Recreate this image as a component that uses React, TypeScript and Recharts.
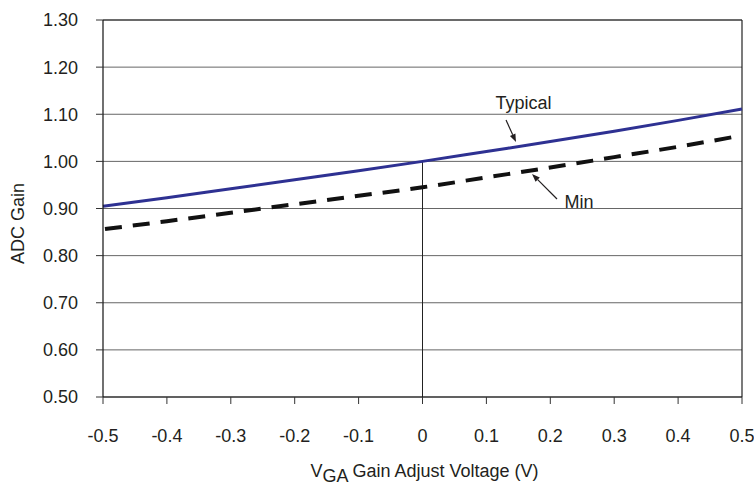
import React from 'react';
import { LineChart, Line, XAxis, YAxis, CartesianGrid, ReferenceLine, ReferenceDot, Label } from 'recharts';

const xValues = [-0.5, -0.4, -0.3, -0.2, -0.1, 0, 0.1, 0.2, 0.3, 0.4, 0.5];
const typicalGain = [0.905, 0.923, 0.942, 0.961, 0.98, 1.0, 1.021, 1.042, 1.064, 1.087, 1.111];
const minGain = [0.856, 0.873, 0.891, 0.909, 0.927, 0.945, 0.966, 0.987, 1.009, 1.031, 1.055];
const xTicks = [-0.5, -0.4, -0.3, -0.2, -0.1, 0, 0.1, 0.2, 0.3, 0.4, 0.5];
const yTicks = [0.5, 0.6, 0.7, 0.8, 0.9, 1.0, 1.1, 1.2, 1.3];

const data = xValues.map((x, i) => ({ x, typical: typicalGain[i], min: minGain[i] }));

const FONT = '"Liberation Sans", Arial, sans-serif';
const TEXT = '#231f20';

const Arrow = (p: any) => {
  const { x1, y1, x2, y2 } = p;
  if ([x1, y1, x2, y2].some((v) => typeof v !== 'number' || isNaN(v))) return null;
  const ang = Math.atan2(y2 - y1, x2 - x1);
  const L = 8;
  const W = 3;
  const bx = x2 - L * Math.cos(ang);
  const by = y2 - L * Math.sin(ang);
  const px = -Math.sin(ang) * W;
  const py = Math.cos(ang) * W;
  return (
    <g>
      <line x1={x1} y1={y1} x2={bx} y2={by} stroke={TEXT} strokeWidth={1.2} />
      <polygon points={`${x2},${y2} ${bx + px},${by + py} ${bx - px},${by - py}`} fill={TEXT} />
    </g>
  );
};

const XTitle = (props: any) => {
  const vb = props.viewBox || {};
  const cx = vb.x + vb.width / 2 + 2;
  const y = vb.y + 80;
  return (
    <text x={cx} y={y} textAnchor="middle" fontSize={18} fontFamily={FONT} fill={TEXT}>
      <tspan>V</tspan>
      <tspan dy={5}>GA</tspan>
      <tspan dy={-5}> Gain Adjust Voltage (V)</tspan>
    </text>
  );
};

const YTitle = (props: any) => {
  const vb = props.viewBox || {};
  const x = vb.x + 18;
  const y = vb.y + vb.height / 2 + 15;
  return (
    <text
      x={x}
      y={y}
      textAnchor="middle"
      dominantBaseline="central"
      transform={`rotate(-90, ${x}, ${y})`}
      fontSize={18}
      fontFamily={FONT}
      fill={TEXT}
    >
      ADC Gain
    </text>
  );
};

export default function App() {
  return (
    <div style={{ position: 'absolute', left: 0, top: 0, background: '#fff' }}>
      <LineChart width={754} height={483} data={data} margin={{ top: 20, right: 12, left: 0, bottom: 0 }}>
        <CartesianGrid vertical={false} stroke="#666" strokeWidth={1} />
        <XAxis
          dataKey="x"
          type="number"
          domain={[-0.5, 0.5]}
          ticks={xTicks}
          interval={0}
          height={86}
          tickFormatter={(v: number) => String(v)}
          tick={{ fontSize: 18, fill: TEXT, fontFamily: FONT }}
          axisLine={{ stroke: '#111', strokeWidth: 1.2 }}
          tickLine={{ stroke: '#333' }}
          tickSize={7}
          tickMargin={25}
        >
          <Label content={XTitle} />
        </XAxis>
        <YAxis
          type="number"
          domain={[0.5, 1.3]}
          ticks={yTicks}
          interval={0}
          width={103}
          tickFormatter={(v: number) => v.toFixed(2)}
          tick={{ fontSize: 18, fill: TEXT, fontFamily: FONT }}
          axisLine={{ stroke: '#111', strokeWidth: 1.2 }}
          tickLine={{ stroke: '#333' }}
          tickSize={7}
          tickMargin={18}
        >
          <Label content={YTitle} />
        </YAxis>
        <ReferenceLine y={1.3} stroke="#222" strokeWidth={1.2} />
        <ReferenceLine x={0.5} stroke="#222" strokeWidth={1.2} />
        <ReferenceLine
          segment={[
            { x: 0, y: 0.5 },
            { x: 0, y: 1.0 },
          ]}
          stroke="#222"
          strokeWidth={1}
        />
        <Line
          type="monotone"
          dataKey="min"
          stroke="#111"
          strokeWidth={4}
          strokeDasharray="17 11"
          strokeDashoffset={26}
          dot={false}
          isAnimationActive={false}
        />
        <Line
          type="monotone"
          dataKey="typical"
          stroke="#2E3192"
          strokeWidth={3}
          dot={false}
          isAnimationActive={false}
        />
        <ReferenceLine
          segment={[
            { x: 0.1307, y: 1.0878 },
            { x: 0.1463, y: 1.0411 },
          ]}
          shape={Arrow}
        />
        <ReferenceLine
          segment={[
            { x: 0.2105, y: 0.9202 },
            { x: 0.1714, y: 0.9732 },
          ]}
          shape={Arrow}
        />
        <ReferenceDot
          x={0.158}
          y={1.1247}
          r={0}
          fill="none"
          stroke="none"
          label={{ value: 'Typical', position: 'center', fontSize: 18, fill: TEXT, fontFamily: FONT }}
        />
        <ReferenceDot
          x={0.2449}
          y={0.9146}
          r={0}
          fill="none"
          stroke="none"
          label={{ value: 'Min', position: 'center', fontSize: 18, fill: TEXT, fontFamily: FONT }}
        />
      </LineChart>
    </div>
  );
}
